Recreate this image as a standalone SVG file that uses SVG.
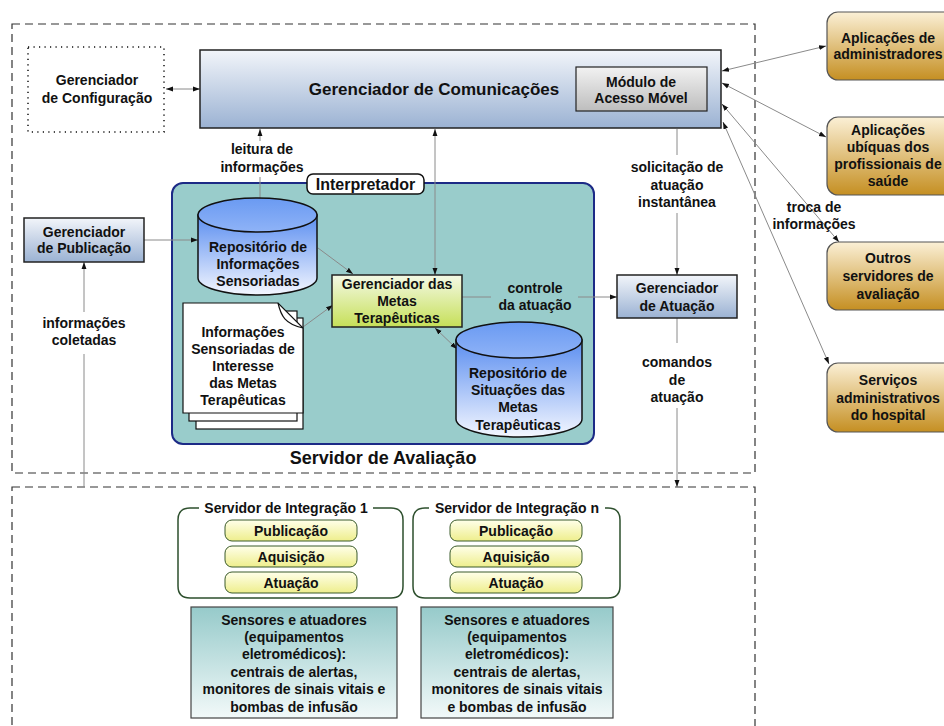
<svg xmlns="http://www.w3.org/2000/svg" width="944" height="726" viewBox="0 0 944 726">
<defs>
<linearGradient id="gBlue" x1="0" y1="0" x2="0" y2="1"><stop offset="0" stop-color="#f2f5fa"/><stop offset="1" stop-color="#9bb2d3"/></linearGradient>
<linearGradient id="gGray" x1="0" y1="0" x2="0" y2="1"><stop offset="0" stop-color="#f2f2f2"/><stop offset="1" stop-color="#bdbdbd"/></linearGradient>
<linearGradient id="gGold" x1="0" y1="0" x2="0" y2="1"><stop offset="0" stop-color="#fbf0d6"/><stop offset="1" stop-color="#c58f22"/></linearGradient>
<linearGradient id="gGreen" x1="0" y1="0" x2="0" y2="1"><stop offset="0" stop-color="#f4f9e6"/><stop offset="1" stop-color="#c6df58"/></linearGradient>
<linearGradient id="gYel" x1="0" y1="0" x2="0" y2="1"><stop offset="0" stop-color="#ffffea"/><stop offset="1" stop-color="#eeee8c"/></linearGradient>
<linearGradient id="gTeal" x1="0" y1="0" x2="0" y2="1"><stop offset="0" stop-color="#96caca"/><stop offset="1" stop-color="#f2f9f9"/></linearGradient>
<linearGradient id="gCyl" x1="0" y1="0" x2="0" y2="1"><stop offset="0" stop-color="#5b8ef0"/><stop offset="1" stop-color="#f4f7ff"/></linearGradient>
<linearGradient id="gCylTop" x1="0" y1="0" x2="0" y2="1"><stop offset="0" stop-color="#6a9af2"/><stop offset="1" stop-color="#8fb3f7"/></linearGradient>
<marker id="ah" viewBox="0 0 10 10" refX="10" refY="5" markerWidth="7" markerHeight="7" orient="auto-start-reverse" markerUnits="userSpaceOnUse"><path d="M0,1.5 L10,5 L0,8.5 z" fill="#111"/></marker>
</defs>
<style>
text{font-family:"Liberation Sans",Arial,sans-serif;font-weight:bold;font-size:14px;fill:#111;text-anchor:middle}
.big{font-size:17px}
.huge{font-size:18px}
.mid{font-size:16px}
.box{stroke:#222;stroke-width:1.5}
.con{stroke:#8a8a8a;stroke-width:1;fill:none}
.dash{fill:none;stroke:#333;stroke-width:1.2;stroke-dasharray:8 5}
.gold{fill:url(#gGold);stroke:#555;stroke-width:1.2}
.sub{fill:url(#gYel);stroke:#3a5a2a;stroke-width:1}
.sens{fill:url(#gTeal);stroke:#444;stroke-width:1.2}
.cyl{fill:url(#gCyl);stroke:#111;stroke-width:1.5}
.cyltop{fill:url(#gCylTop);stroke:#111;stroke-width:1.5}
.page{fill:#fff;stroke:#111;stroke-width:1.2}
.isrv{fill:none;stroke:#2d4f2d;stroke-width:1.5}
</style>

<g id="servidor-avaliacao">
<rect class="dash" x="12" y="24" width="743" height="449"/>
<text class="huge" x="383" y="464">Servidor de Avaliação</text>
</g>
<g id="integracao-area">
<rect class="dash" x="12" y="487" width="743" height="260"/>
</g>

<g id="interpretador">
<rect x="172" y="183" width="422" height="261" rx="11" fill="#99cccb" stroke="#1c2a86" stroke-width="2"/>
<rect x="307" y="174" width="117" height="20" rx="6" fill="#fff" stroke="#111" stroke-width="1.5"/>
<text class="mid" x="365.5" y="190">Interpretador</text>
</g>

<g id="connectors">
<line class="con" x1="166" y1="89" x2="200" y2="89" marker-start="url(#ah)" marker-end="url(#ah)"/>
<line class="con" x1="260" y1="198" x2="260" y2="177"/>
<line class="con" x1="260" y1="141" x2="260" y2="129" marker-end="url(#ah)"/>
<line class="con" x1="435" y1="129" x2="435" y2="275" marker-start="url(#ah)" marker-end="url(#ah)"/>
<line class="con" x1="677" y1="129" x2="677" y2="155"/>
<line class="con" x1="677" y1="213" x2="677" y2="275" marker-end="url(#ah)"/>
<line class="con" x1="462" y1="297" x2="491" y2="297"/>
<line class="con" x1="578" y1="297" x2="617" y2="297" marker-end="url(#ah)"/>
<line class="con" x1="677" y1="318" x2="677" y2="343"/>
<line class="con" x1="677" y1="408" x2="677" y2="487" marker-end="url(#ah)"/>
<line class="con" x1="144" y1="240" x2="198" y2="240" marker-end="url(#ah)"/>
<line class="con" x1="84" y1="487" x2="84" y2="354"/>
<line class="con" x1="84" y1="312" x2="84" y2="262" marker-end="url(#ah)"/>
<line class="con" x1="318" y1="248" x2="353" y2="274" marker-end="url(#ah)"/>
<line class="con" x1="303" y1="327" x2="333" y2="305" marker-end="url(#ah)"/>
<line class="con" x1="435" y1="328" x2="457" y2="349" marker-start="url(#ah)" marker-end="url(#ah)"/>
<line class="con" x1="722" y1="71" x2="826" y2="46" marker-start="url(#ah)" marker-end="url(#ah)"/>
<line class="con" x1="722" y1="83" x2="826" y2="137" marker-start="url(#ah)" marker-end="url(#ah)"/>
<line class="con" x1="722" y1="104" x2="839" y2="242" marker-start="url(#ah)" marker-end="url(#ah)"/>
<line class="con" x1="723" y1="122" x2="829" y2="364" marker-start="url(#ah)" marker-end="url(#ah)"/>
<text x="262" y="154">leitura de</text>
<text x="262" y="172">informações</text>
<text x="677" y="172">solicitação de</text>
<text x="677" y="190">atuação</text>
<text x="677" y="207">instantânea</text>
<text x="535" y="293">controle</text>
<text x="535" y="310">da atuação</text>
<text x="677" y="367">comandos</text>
<text x="677" y="385">de</text>
<text x="677" y="402">atuação</text>
<text x="84" y="328">informações</text>
<text x="84" y="345">coletadas</text>
<text x="814" y="212">troca de</text>
<text x="814" y="229">informações</text>
</g>

<g id="gerenciador-configuracao">
<rect x="28" y="47" width="136" height="85" fill="#fff" stroke="#111" stroke-width="1.5" stroke-dasharray="1.2 4.3"/>
<text x="97" y="85">Gerenciador</text>
<text x="97" y="103">de Configuração</text>
</g>

<g id="gerenciador-comunicacoes">
<rect class="box" x="200" y="50" width="521" height="78" fill="url(#gBlue)"/>
<text class="big" x="434" y="95">Gerenciador de Comunicações</text>
</g>
<g id="modulo-acesso-movel">
<rect x="576" y="67" width="131" height="44" fill="url(#gGray)" stroke="#222" stroke-width="1.2"/>
<text x="641" y="87">Módulo de</text>
<text x="641" y="103">Acesso Móvel</text>
</g>

<g id="gerenciador-publicacao">
<rect class="box" x="24" y="218" width="120" height="44" fill="url(#gBlue)"/>
<text x="84" y="237">Gerenciador</text>
<text x="84" y="253">de Publicação</text>
</g>

<g id="repositorio-informacoes">
<path class="cyl" d="M198,215 L198,278 A59.5,17 0 0 0 317,278 L317,215 Z"/>
<ellipse class="cyltop" cx="257.5" cy="215" rx="59.5" ry="17"/>
<text x="258" y="252">Repositório de</text>
<text x="258" y="269">Informações</text>
<text x="258" y="286">Sensoriadas</text>
</g>

<g id="informacoes-interesse">
<rect class="page" x="196" y="318" width="107" height="111"/>
<rect class="page" x="189" y="311" width="108" height="110"/>
<path class="page" d="M183,303 L278,303 L303,328 L303,413 L183,413 Z"/>
<path fill="none" stroke="#111" stroke-width="1.2" d="M278,303 C281,316 285,324 303,328"/>
<text x="243" y="337">Informações</text>
<text x="243" y="354">Sensoriadas de</text>
<text x="243" y="371">Interesse</text>
<text x="243" y="388">das Metas</text>
<text x="243" y="405">Terapêuticas</text>
</g>

<g id="gerenciador-metas">
<rect class="box" x="332" y="275" width="130" height="52" fill="url(#gGreen)"/>
<text x="397" y="289">Gerenciador das</text>
<text x="397" y="306">Metas</text>
<text x="397" y="323">Terapêuticas</text>
</g>

<g id="repositorio-situacoes">
<path class="cyl" d="M456,340 L456,419 A63,18 0 0 0 582,419 L582,340 Z"/>
<ellipse class="cyltop" cx="519" cy="340" rx="63" ry="18"/>
<text x="518" y="378">Repositório de</text>
<text x="518" y="395">Situações das</text>
<text x="518" y="412">Metas</text>
<text x="518" y="430">Terapêuticas</text>
</g>

<g id="gerenciador-atuacao">
<rect class="box" x="617" y="275" width="120" height="43" fill="url(#gBlue)"/>
<text x="677" y="293">Gerenciador</text>
<text x="677" y="311">de Atuação</text>
</g>

<g id="aplicacoes-administradores">
<rect class="gold" x="827" y="12" width="130" height="68" rx="11"/>
<text x="888" y="43">Aplicações de</text>
<text x="888" y="59">administradores</text>
</g>
<g id="aplicacoes-ubiquas">
<rect class="gold" x="827" y="117" width="130" height="78" rx="11"/>
<text x="888" y="135">Aplicações</text>
<text x="888" y="152">ubíquas dos</text>
<text x="888" y="169">profissionais de</text>
<text x="888" y="186">saúde</text>
</g>
<g id="outros-servidores">
<rect class="gold" x="827" y="242" width="130" height="68" rx="11"/>
<text x="888" y="263">Outros</text>
<text x="888" y="281">servidores de</text>
<text x="888" y="299">avaliação</text>
</g>
<g id="servicos-administrativos">
<rect class="gold" x="827" y="363" width="130" height="69" rx="11"/>
<text x="888" y="385">Serviços</text>
<text x="888" y="403">administrativos</text>
<text x="888" y="420">do hospital</text>
</g>

<g id="servidor-integracao-1">
<path class="isrv" d="M373,508 L391,508 Q403,508 403,520 L403,586 Q403,598 391,598 L190,598 Q178,598 178,586 L178,520 Q178,508 190,508 L199,508"/>
<text x="286" y="513">Servidor de Integração 1</text>
<rect class="sub" x="225" y="520" width="132" height="21" rx="7"/>
<text x="291" y="536">Publicação</text>
<rect class="sub" x="225" y="546" width="132" height="21" rx="7"/>
<text x="291" y="562">Aquisição</text>
<rect class="sub" x="225" y="572" width="132" height="21" rx="7"/>
<text x="291" y="588">Atuação</text>
</g>
<g id="servidor-integracao-n">
<path class="isrv" d="M605,508 L608,508 Q620,508 620,520 L620,586 Q620,598 608,598 L425,598 Q413,598 413,586 L413,520 Q413,508 425,508 L429,508"/>
<text x="517" y="513">Servidor de Integração n</text>
<rect class="sub" x="450" y="520" width="132" height="21" rx="7"/>
<text x="516" y="536">Publicação</text>
<rect class="sub" x="450" y="546" width="132" height="21" rx="7"/>
<text x="516" y="562">Aquisição</text>
<rect class="sub" x="450" y="572" width="132" height="21" rx="7"/>
<text x="516" y="588">Atuação</text>
</g>

<g id="sensores-1">
<rect class="sens" x="191" y="607" width="206" height="111"/>
<text x="294" y="625">Sensores e atuadores</text>
<text x="294" y="642">(equipamentos</text>
<text x="294" y="659">eletromédicos):</text>
<text x="294" y="677">centrais de alertas,</text>
<text x="294" y="694">monitores de sinais vitais e</text>
<text x="294" y="712">bombas de infusão</text>
</g>
<g id="sensores-n">
<rect class="sens" x="421" y="607" width="192" height="111"/>
<text x="517" y="625">Sensores e atuadores</text>
<text x="517" y="642">(equipamentos</text>
<text x="517" y="659">eletromédicos):</text>
<text x="517" y="677">centrais de alertas,</text>
<text x="517" y="694">monitores de sinais vitais</text>
<text x="517" y="712">e bombas de infusão</text>
</g>
</svg>
